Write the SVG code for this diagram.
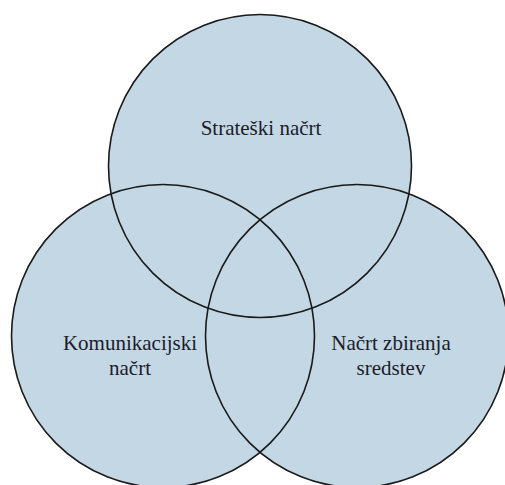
<svg xmlns="http://www.w3.org/2000/svg" xmlns:xlink="http://www.w3.org/1999/xlink" width="505" height="485" viewBox="0 0 505 485">
  <style>
    .fill { fill: #c3d7e5; stroke: none; }
    .outline { fill: none; stroke: #1a1a1a; stroke-width: 1.6; }
    .label { fill: #1c1c2a; text-anchor: middle; }
  </style>
  <defs>
    <circle id="c-top" cx="260" cy="166" r="151.5"/>
    <circle id="c-left" cx="163" cy="336" r="151.5"/>
    <circle id="c-right" cx="357" cy="336" r="151.5"/>
  </defs>
  <rect width="505" height="485" fill="#ffffff"/>
  <g id="node-strateski">
    <use xlink:href="#c-top" class="fill"/>
  </g>
  <g id="node-komunikacijski">
    <use xlink:href="#c-left" class="fill"/>
  </g>
  <g id="node-zbiranje">
    <use xlink:href="#c-right" class="fill"/>
  </g>
  <g id="outlines">
    <use xlink:href="#c-top" class="outline"/>
    <use xlink:href="#c-left" class="outline"/>
    <use xlink:href="#c-right" class="outline"/>
  </g>
  <g id="labels" font-family="'Liberation Serif', 'DejaVu Serif', serif" font-size="21">
    <text class="label" x="261" y="135">Strateški načrt</text>
    <text class="label" x="130" y="350">Komunikacijski</text>
    <text class="label" x="130" y="375">načrt</text>
    <text class="label" x="391" y="350">Načrt zbiranja</text>
    <text class="label" x="391" y="375">sredstev</text>
  </g>
</svg>
